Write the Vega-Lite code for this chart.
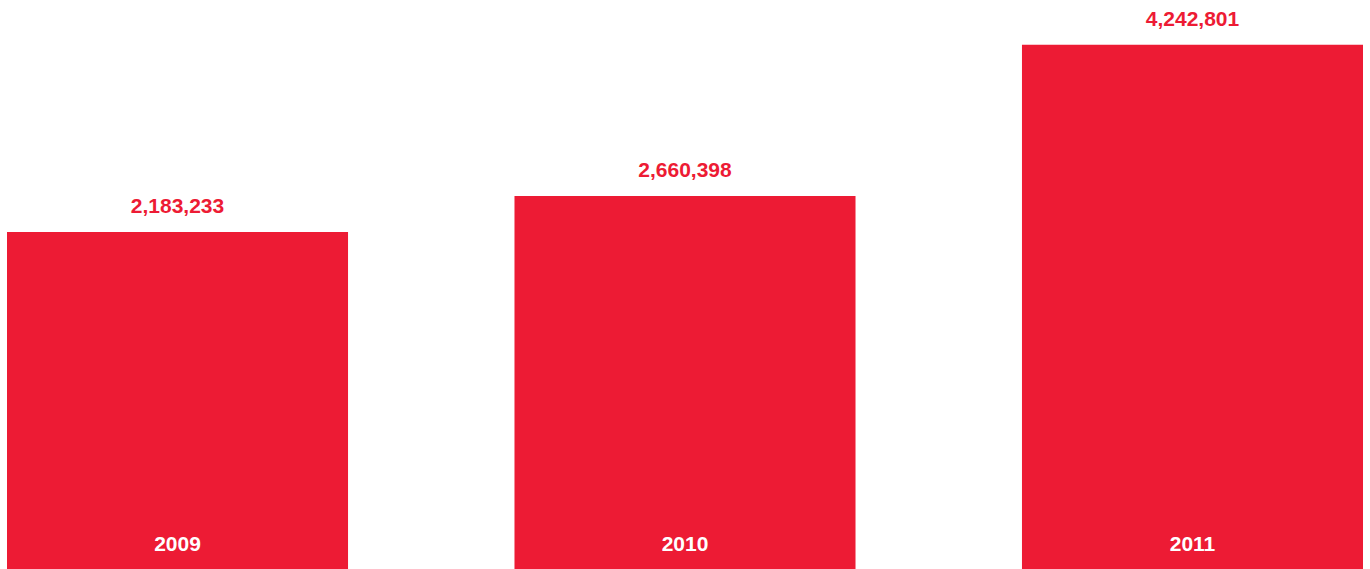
{
  "$schema": "https://vega.github.io/schema/vega-lite/v6.json",
  "width": 1370,
  "height": 569,
  "padding": 0,
  "autosize": {"type": "none"},
  "background": "white",
  "config": {"view": {"stroke": null}},
  "data": {"values": [
    {"year": "2009", "value": 2183233},
    {"year": "2010", "value": 2660398},
    {"year": "2011", "value": 4242801}
  ]},
  "encoding": {
    "x": {"field": "year", "type": "nominal", "axis": null,
          "scale": {"paddingInner": 0.328, "paddingOuter": 0.0138}}
  },
  "layer": [
    {
      "mark": {"type": "bar", "color": "#ED1B34"},
      "encoding": {
        "y": {"field": "value", "type": "quantitative", "axis": null,
              "scale": {"type": "pow", "exponent": 1.68, "domain": [-3940000, 4637000], "zero": false, "nice": false}},
        "y2": {"datum": -3940000}
      }
    },
    {
      "mark": {"type": "text", "color": "#ED1B34", "font": "Liberation Sans", "fontWeight": "bold", "fontSize": 21, "baseline": "alphabetic", "dy": -19},
      "encoding": {
        "y": {"field": "value", "type": "quantitative"},
        "text": {"field": "value", "type": "quantitative", "format": ",d"}
      }
    },
    {
      "mark": {"type": "text", "color": "white", "font": "Liberation Sans", "fontWeight": "bold", "fontSize": 21, "baseline": "alphabetic", "dy": -18},
      "encoding": {
        "y": {"datum": -3940000},
        "text": {"field": "year", "type": "nominal"}
      }
    }
  ]
}
